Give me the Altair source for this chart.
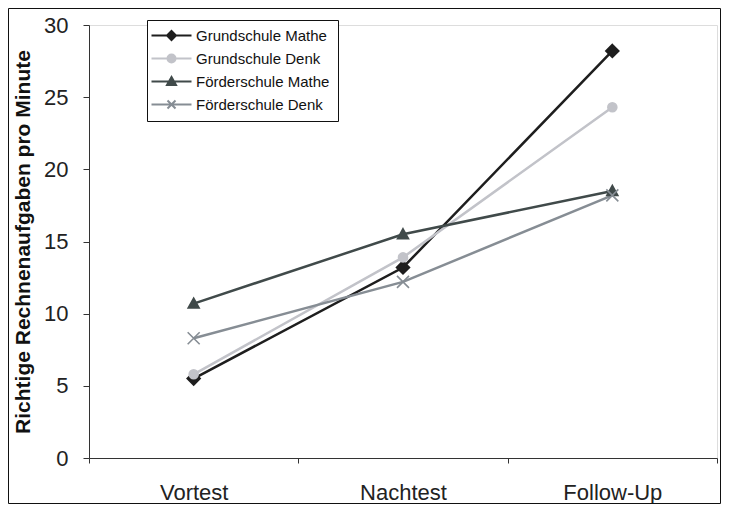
import altair as alt
import pandas as pd

tests = ["Vortest", "Nachtest", "Follow-Up"]
series = ["Grundschule Mathe", "Grundschule Denk", "Förderschule Mathe", "Förderschule Denk"]
gs_mathe = [5.5, 13.2, 28.2]
gs_denk = [5.8, 13.9, 24.3]
fs_mathe = [10.7, 15.5, 18.5]
fs_denk = [8.3, 12.2, 18.2]

colors = ["#1e1e1e", "#c2c3c9", "#404a4a", "#868d94"]

point_shapes = [
    "M0,-1.3L1.3,0L0,1.3L-1.3,0Z",
    "M-0.9,0A0.9,0.9,0,1,0,0.9,0A0.9,0.9,0,1,0,-0.9,0Z",
    "M0,-1.1L1.1,0.9L-1.1,0.9Z",
    "M-1.2,-1.2L1.2,1.2M1.2,-1.2L-1.2,1.2",
]
legend_shapes = [
    "M-2.2,0H5.8M1.8,-0.9L2.7,0L1.8,0.9L0.9,0Z",
    "M-2.2,0H5.8M1.0,0A0.8,0.8,0,1,0,2.6,0A0.8,0.8,0,1,0,1.0,0Z",
    "M-2.2,0H5.8M1.8,-0.9L2.7,0.7L0.9,0.7Z",
    "M-2.2,0H5.8M1.0,-0.8L2.6,0.8M2.6,-0.8L1.0,0.8",
]

rows = []
for s, vals in zip(series, [gs_mathe, gs_denk, fs_mathe, fs_denk]):
    for t, v in zip(tests, vals):
        rows.append({"test": t, "serie": s, "wert": v})
df = pd.DataFrame(rows)

FONT = "Liberation Sans"

x_enc = alt.X(
    "test:N",
    sort=tests,
    scale=alt.Scale(type="band", domain=tests, paddingInner=0, paddingOuter=0),
    axis=alt.Axis(
        title=None, labelAngle=0, tickBand="extent", tickSize=5,
        labelFontSize=22, labelFont=FONT, labelColor="#222", labelPadding=19,
        domainColor="#333", tickColor="#333", grid=False,
    ),
)
y_enc = alt.Y(
    "wert:Q",
    scale=alt.Scale(domain=[0, 30], nice=False, zero=True),
    axis=alt.Axis(
        title="Richtige Rechnenaufgaben pro Minute", values=[0, 5, 10, 15, 20, 25, 30],
        titleFont=FONT, titleFontSize=21, titleFontWeight="bold", titleColor="#111",
        titlePadding=10, labelFontSize=22, labelFont=FONT, labelColor="#222",
        labelPadding=15, tickSize=6, domainColor="#333", tickColor="#333", grid=False,
    ),
)

col_scale = alt.Scale(domain=series, range=colors)

base = alt.Chart(df)

lines = base.mark_line(strokeWidth=2.5).encode(
    x=x_enc, y=y_enc,
    stroke=alt.Stroke("serie:N", scale=col_scale, legend=None),
    detail="serie:N",
)

points = base.mark_point(filled=False, size=100, strokeWidth=1.6, opacity=1).encode(
    x=x_enc, y=y_enc,
    stroke=alt.Stroke("serie:N", scale=col_scale, legend=None),
    fill=alt.Fill("serie:N", scale=col_scale, legend=None),
    shape=alt.Shape("serie:N", scale=alt.Scale(domain=series, range=point_shapes), legend=None),
)

leg = alt.Legend(
    title=None, orient="none", legendX=58, legendY=-5,
    symbolSize=100, symbolStrokeWidth=2, symbolOpacity=1,
    labelFont=FONT, labelFontSize=15, labelColor="#111", labelOffset=26,
    rowPadding=6, padding=8, strokeColor="#111", fillColor="white",
)

legend_layer = base.transform_filter("false").mark_point(filled=False, size=100).encode(
    x=x_enc, y=y_enc,
    stroke=alt.Stroke("serie:N", scale=col_scale, legend=leg),
    fill=alt.Fill("serie:N", scale=col_scale, legend=leg),
    shape=alt.Shape("serie:N", scale=alt.Scale(domain=series, range=legend_shapes), legend=leg),
)

frame = alt.Chart(pd.DataFrame({"a": [0]})).mark_rect(fill=None, stroke="#111", strokeWidth=1).encode(
    x=alt.value(-80.5), x2=alt.value(631.5), y=alt.value(-16.5), y2=alt.value(478.5)
)

chart = alt.layer(frame, lines, points, legend_layer).resolve_scale(
    shape="independent", fill="independent", stroke="independent"
).properties(
    width=628, height=433,
    autosize=alt.AutoSizeParams(type="none"),
    padding={"left": 81, "top": 17, "right": 4, "bottom": 46},
).configure_view(stroke=None).configure(background="white")

chart.save("out.html", embed_options={"renderer": "svg", "actions": False})
